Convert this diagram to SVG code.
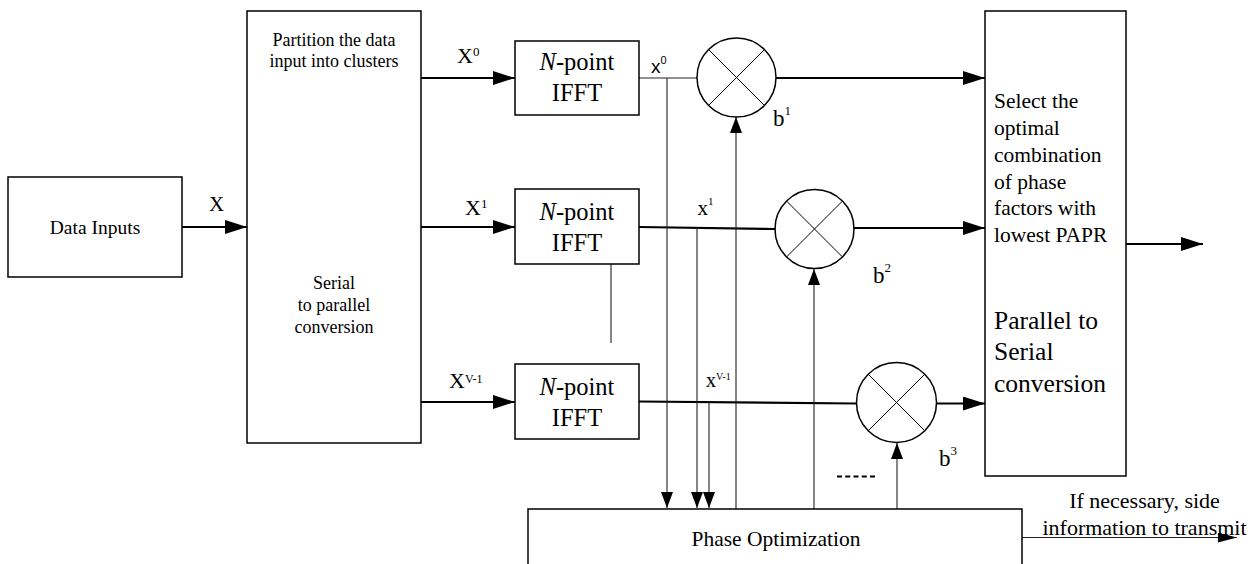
<svg xmlns="http://www.w3.org/2000/svg" width="1255" height="564" viewBox="0 0 1255 564" font-family="'Liberation Serif', 'Times New Roman', 'DejaVu Serif', serif">
<style>
.box{fill:#fff;stroke:#000;stroke-width:1.5}
.circ{fill:none;stroke:#000;stroke-width:1.5}
.cross{stroke:#000;stroke-width:1}
.thick{stroke:#000;stroke-width:2.2;fill:none}
.thin{stroke:#222;stroke-width:1.1;fill:none}
.mid{text-anchor:middle}
</style>
<defs>
<marker id="ah" markerUnits="userSpaceOnUse" markerWidth="22" markerHeight="14" refX="22" refY="7" orient="auto"><path d="M0,0 L22,7 L0,14 z" fill="#000"/></marker>
<marker id="as" markerUnits="userSpaceOnUse" markerWidth="16" markerHeight="12" refX="16" refY="6" orient="auto"><path d="M0,0 L16,6 L0,12 z" fill="#000"/></marker>
<marker id="am" markerUnits="userSpaceOnUse" markerWidth="19" markerHeight="10" refX="19" refY="5" orient="auto"><path d="M0,0 L19,5 L0,10 z" fill="#000"/></marker>
</defs>

<g id="connectors">
<line class="thick" x1="182" y1="227" x2="247" y2="227" marker-end="url(#ah)"/>
<line class="thick" x1="421" y1="78" x2="515" y2="78" marker-end="url(#ah)"/>
<line class="thick" x1="421" y1="227" x2="515" y2="227" marker-end="url(#ah)"/>
<line class="thick" x1="421" y1="402" x2="515" y2="402" marker-end="url(#ah)"/>
<line class="thin" x1="639" y1="78" x2="697" y2="78"/>
<line class="thick" x1="639" y1="227" x2="775.5" y2="229"/>
<line class="thick" x1="639" y1="401.5" x2="856.5" y2="403.5"/>
<line class="thick" x1="776" y1="78" x2="985" y2="78" marker-end="url(#ah)"/>
<line class="thick" x1="853.5" y1="228" x2="985" y2="228" marker-end="url(#ah)"/>
<line class="thick" x1="936.5" y1="403.5" x2="985" y2="403.5" marker-end="url(#ah)"/>
<line class="thick" x1="1126" y1="244" x2="1203" y2="244" marker-end="url(#ah)"/>
<line class="thin" x1="667" y1="78" x2="667" y2="508" marker-end="url(#as)"/>
<line class="thin" x1="697" y1="228" x2="697" y2="508" marker-end="url(#as)"/>
<line class="thin" x1="709" y1="402" x2="709" y2="508" marker-end="url(#as)"/>
<line class="thin" x1="736" y1="509" x2="736" y2="117" marker-end="url(#as)"/>
<line class="thin" x1="814" y1="509" x2="814" y2="269" marker-end="url(#as)"/>
<line class="thin" x1="897" y1="509" x2="897" y2="443" marker-end="url(#as)"/>
<line class="thin" x1="611" y1="252" x2="611" y2="343"/>
<line x1="837" y1="476.5" x2="875" y2="476.5" stroke="#000" stroke-width="2" stroke-dasharray="5 3.25"/>
<line class="thin" x1="1022" y1="537.5" x2="1237" y2="537.5" marker-end="url(#am)"/>
</g>

<g id="data-inputs">
<rect class="box" x="8" y="177" width="174" height="100"/>
<text class="mid" x="95" y="234" font-size="19.5">Data Inputs</text>
</g>
<text x="209" y="211" font-size="21">X</text>

<g id="partition">
<rect class="box" x="247" y="11" width="174" height="432"/>
<text class="mid" x="334" y="45.5" font-size="18">Partition the data</text>
<text class="mid" x="334" y="67" font-size="18">input into clusters</text>
<text class="mid" x="334" y="289" font-size="18">Serial</text>
<text class="mid" x="334" y="311" font-size="18">to parallel</text>
<text class="mid" x="334" y="333" font-size="18">conversion</text>
</g>

<text x="457" y="63" font-size="22">X<tspan font-size="13" dy="-7">0</tspan></text>
<text x="465" y="215" font-size="22">X<tspan font-size="13" dy="-7">1</tspan></text>
<text x="449" y="388" font-size="22">X<tspan font-size="12" dy="-5">V-1</tspan></text>

<g id="ifft0">
<rect class="box" x="515" y="41" width="124" height="74"/>
<text class="mid" x="577" y="70" font-size="24.5"><tspan font-style="italic">N</tspan>-point</text>
<text class="mid" x="577" y="100.5" font-size="24.5">IFFT</text>
</g>
<g id="ifft1">
<rect class="box" x="515" y="189" width="124" height="75"/>
<text class="mid" x="577" y="220" font-size="24.5"><tspan font-style="italic">N</tspan>-point</text>
<text class="mid" x="577" y="250.5" font-size="24.5">IFFT</text>
</g>
<g id="ifft2">
<rect class="box" x="515" y="364" width="124" height="75"/>
<text class="mid" x="577" y="395" font-size="24.5"><tspan font-style="italic">N</tspan>-point</text>
<text class="mid" x="577" y="425.5" font-size="24.5">IFFT</text>
</g>

<text font-family="'Liberation Sans', Arial, sans-serif" x="651" y="72.5" font-size="19">x<tspan font-size="11" dy="-9">0</tspan></text>
<text x="697.5" y="215" font-size="21">x<tspan font-size="11" dy="-10">1</tspan></text>
<text x="706" y="386.5" font-size="20">x<tspan font-size="10" dy="-7">V-1</tspan></text>

<g id="mult1">
<circle class="circ" cx="736.5" cy="77.5" r="39.5"/>
<line class="cross" x1="708.6" y1="49.6" x2="764.4" y2="105.4"/>
<line class="cross" x1="764.4" y1="49.6" x2="708.6" y2="105.4"/>
</g>
<g id="mult2">
<circle class="circ" cx="814.5" cy="229" r="39.5"/>
<line class="cross" x1="786.6" y1="201.1" x2="842.4" y2="256.9"/>
<line class="cross" x1="842.4" y1="201.1" x2="786.6" y2="256.9"/>
</g>
<g id="mult3">
<circle class="circ" cx="896.5" cy="402.5" r="40"/>
<line class="cross" x1="868.2" y1="374.2" x2="924.8" y2="430.8"/>
<line class="cross" x1="924.8" y1="374.2" x2="868.2" y2="430.8"/>
</g>

<text x="773" y="126" font-size="23">b<tspan font-size="13" dy="-11">1</tspan></text>
<text x="873" y="283" font-size="23">b<tspan font-size="13" dy="-11">2</tspan></text>
<text x="939" y="466" font-size="23">b<tspan font-size="13" dy="-11">3</tspan></text>

<g id="select">
<rect class="box" x="985" y="11" width="141" height="465"/>
<text x="994" y="108" font-size="21.5">Select the</text>
<text x="994" y="135" font-size="21.5">optimal</text>
<text x="994" y="162" font-size="21.5">combination</text>
<text x="994" y="189" font-size="21.5">of phase</text>
<text x="994" y="215" font-size="21.5">factors with</text>
<text x="994" y="242" font-size="21.5">lowest PAPR</text>
<text x="994" y="329" font-size="25.5">Parallel to</text>
<text x="994" y="360" font-size="25.5">Serial</text>
<text x="994" y="391.5" font-size="25.5">conversion</text>
</g>

<g id="phase-optimization">
<rect class="box" x="528" y="509" width="494" height="80"/>
<text class="mid" x="776" y="546" font-size="21.5">Phase Optimization</text>
</g>

<text class="mid" x="1144.5" y="508" font-size="22">If necessary, side</text>
<text class="mid" x="1144.5" y="535" font-size="22">information to transmit</text>
</svg>
